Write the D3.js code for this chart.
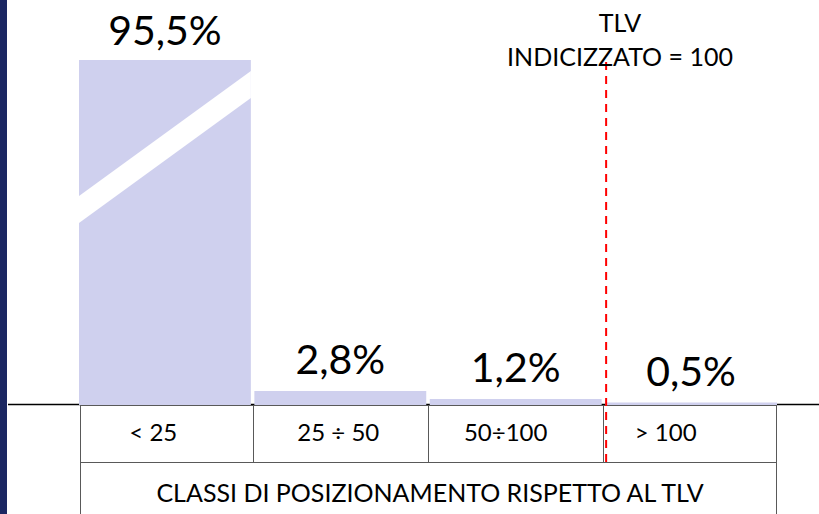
<!DOCTYPE html>
<html>
<head>
<meta charset="utf-8">
<script src="https://cdn.jsdelivr.net/npm/d3@7"></script>
<style>
  html, body { margin: 0; padding: 0; background: #fff; }
  svg { display: block; font-family: Lato, "Open Sans", sans-serif; }
</style>
</head>
<body>
<div id="chart"></div>
<script>
// classes of exposure relative to TLV (indexed = 100)
const categories = ["< 25", "25 ÷ 50", "50÷100", "> 100"];
const values = [95.5, 2.8, 1.2, 0.5];
const valueLabels = ["95,5%", "2,8%", "1,2%", "0,5%"];
const axisTitle = "CLASSI DI POSIZIONAMENTO RISPETTO AL TLV";
const tlvLines = ["TLV", "INDICIZZATO = 100"];

let width = 819
let height = 514

let svg = d3.select("#chart").append("svg")
    .attr("width", width)
    .attr("height", height);

// dark strip on the left edge of the slide
svg.append("rect")
    .attr("x", 0).attr("y", 0)
    .attr("width", 7).attr("height", height)
    .attr("fill", "#1b2762");

let baseY = 405;
let x = d3.scaleBand()
    .domain(categories)
    .range([79, 777])
    .paddingInner(0.02)
    .paddingOuter(0);

// 5 px per percent, the tall bar gets cut with a break
let y = d3.scaleLinear()
    .domain([0, 100])
    .range([baseY, baseY - 500]);
let capY = 60;

// baseline
svg.append("line")
    .attr("x1", 8).attr("x2", width)
    .attr("y1", baseY - 0.5).attr("y2", baseY - 0.5)
    .attr("stroke", "#000")
    .attr("stroke-width", 1.5);

let bars = svg.append("g").attr("id", "bars");
bars.selectAll("rect")
    .data(values)
    .enter().append("rect")
    .attr("x", (d, i) => x(categories[i]))
    .attr("width", x.bandwidth())
    .attr("y", d => Math.max(y(d), capY))
    .attr("height", d => baseY - Math.max(y(d), capY))
    .attr("fill", "#cfd0ee");

// white diagonal break on the first bar
let b0 = x(categories[0]), b1 = b0 + x.bandwidth();
bars.append("polygon")
    .attr("points", [[b0, 196], [b1, 71], [b1, 98], [b0, 223]].map(p => p.join(",")).join(" "))
    .attr("fill", "#fff");

// value labels
svg.append("g").attr("id", "labels")
    .selectAll("text")
    .data(values)
    .enter().append("text")
    .attr("x", (d, i) => x(categories[i]) + x.bandwidth() / 2)
    .attr("y", d => y(d) < capY ? 45 : y(d) - 17)
    .attr("text-anchor", "middle")
    .attr("font-size", 41)
    .attr("fill", "#000")
    .text((d, i) => valueLabels[i]);

// table under the axis
let table = svg.append("g").attr("id", "table")
    .attr("stroke", "#595959")
    .attr("stroke-width", 1);
let rowY = 462;
let left = 80, right = 776;
let edges = categories.map(c => x(c) - x.step() * x.paddingInner() / 2);
edges[0] = left;
edges.push(right);

table.append("line").attr("x1", left).attr("x2", right)
    .attr("y1", baseY + 0.5).attr("y2", baseY + 0.5);
table.append("line").attr("x1", left).attr("x2", right)
    .attr("y1", rowY + 0.5).attr("y2", rowY + 0.5);
table.selectAll("line.col")
    .data(edges)
    .enter().append("line")
    .attr("class", "col")
    .attr("x1", d => Math.round(d) + 0.5).attr("x2", d => Math.round(d) + 0.5)
    .attr("y1", baseY)
    .attr("y2", (d, i) => (i === 0 || i === edges.length - 1) ? height : rowY);

let labelShift = [-13, -2, -10, -24];
svg.append("g").attr("id", "ticks")
    .selectAll("text")
    .data(categories)
    .enter().append("text")
    .attr("x", (d, i) => (edges[i] + edges[i + 1]) / 2 + labelShift[i])
    .attr("y", 441)
    .attr("text-anchor", "middle")
    .attr("font-size", 24)
    .attr("fill", "#000")
    .text(d => d);

svg.append("text")
    .attr("x", (left + right) / 2 + 2)
    .attr("y", 502)
    .attr("text-anchor", "middle")
    .attr("font-size", 25)
    .attr("fill", "#000")
    .text(axisTitle);

// TLV reference line
let tlvX = x(categories[3]) + 1;
svg.append("line")
    .attr("x1", tlvX).attr("x2", tlvX)
    .attr("y1", 62).attr("y2", rowY)
    .attr("stroke", "#ff0000")
    .attr("stroke-width", 2)
    .attr("stroke-dasharray", "8,6");

svg.append("g").attr("id", "tlv")
    .selectAll("text")
    .data(tlvLines)
    .enter().append("text")
    .attr("x", 620)
    .attr("y", (d, i) => 32 + i * 34)
    .attr("text-anchor", "middle")
    .attr("font-size", 25)
    .attr("fill", "#000")
    .text(d => d);
</script>
</body>
</html>
